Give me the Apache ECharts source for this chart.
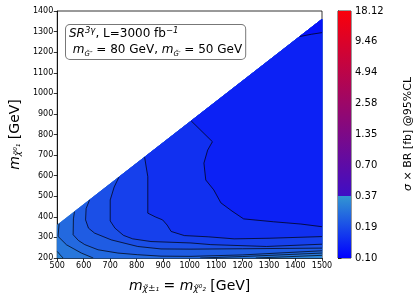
<!DOCTYPE html>
<html><head><meta charset="utf-8">
<script src="https://cdn.jsdelivr.net/npm/echarts@6/dist/echarts.min.js"></script>
<style>html,body{margin:0;padding:0;background:#fff}#c{width:415px;height:300px}</style>
</head><body><div id="c"></div>
<script>
// ---- data (GeV / fb) ----
const xRange = [500, 1500];
const yRange = [200, 1400];
const diagonalOffset = 140;          // m(chi1) <= m(chi2) - 140 GeV
const cbTickLabels = ['0.10','0.19','0.37','0.70','1.35','2.58','4.94','9.46','18.12'];
const cbMin = 0.10, cbSplit = 0.37;

// contour lines, ordered from highest to lowest level
const contourK1 = [[500,232],[511,215],[522,200]];
const contourR1 = [[1250,200],[1500,213]];
const contourK2 = [[507,367],[503,305],[535,264],[591,224],[636,200]];
const contourR2 = [[1040,200],[1200,207],[1500,224]];
const contourK3 = [[565,425],[561,390],[560,313],[580,285],[604,265],[654,240],[729,224],[804,216],[892,209],[1005,208],[1200,215],[1500,235]];
const contourK4 = [[622,482],[609,440],[607,385],[618,345],[641,321],[704,288],[804,256],[892,244],[1005,243],[1200,245],[1500,248]];
const contourC  = [[733,593],[715,545],[700,482],[700,380],[718,345],[750,310],[785,293],[854,280],[1005,273],[1080,265],[1290,256],[1500,267]];
const contourB  = [[830,690],[842,595],[842,418],[870,400],[898,385],[915,360],[930,329],[980,309],[1070,303],[1168,293],[1300,296],[1500,304]];
const contourA  = [[1006,866],[1086,765],[1068,724],[1054,661],[1061,579],[1091,531],[1118,468],[1160,428],[1204,390],[1317,376],[1420,365],[1500,352]];
const contourT  = [[1416,1276],[1460,1287],[1500,1295]];

// sigma x BR upper limit level of each contour (fb)
const contourLevels = [0.30, 0.26, 0.23, 0.205, 0.18, 0.155, 0.135, 0.118];
const maxValue = 0.32;   // lower-left corner
const minValue = 0.11;   // upper-right corner

// ---- build ----
const regionPieces = [
  [contourK1, contourR1], [contourK2, contourR2], [contourK3], [contourK4],
  [contourC], [contourB], [contourA], [contourT]
];
const allLines = [contourK1, contourR1, contourK2, contourR2, contourK3, contourK4, contourC, contourB, contourA, contourT];

function lowColor(v){
  let t = Math.log(v/cbMin)/Math.log(cbSplit/cbMin);
  t = Math.max(0, Math.min(1, t));
  const r = Math.round(4+46*t), g = Math.round(8+142*t), b = Math.round(252-42*t);
  return 'rgb('+r+','+g+','+b+')';
}
const diagTop = [xRange[1], xRange[1]-diagonalOffset];
const diagBottom = [xRange[0], xRange[0]-diagonalOffset];
const fillPolys = [[[xRange[0],yRange[0]],[xRange[1],yRange[0]],diagTop,diagBottom]];
const fillValues = [maxValue];
regionPieces.forEach(function(pieces, i){
  let pts = [];
  pieces.forEach(function(p){ pts = pts.concat(p); });
  pts.push(diagTop);
  const first = pts[0];
  if (Math.abs(first[1] - (first[0]-diagonalOffset)) > 1) pts.push(diagBottom);
  fillPolys.push(pts);
  const lo = contourLevels[i+1] !== undefined ? contourLevels[i+1] : minValue*minValue/contourLevels[i];
  fillValues.push(Math.sqrt(contourLevels[i]*lo));
});
fillValues[fillValues.length-1] = minValue;

const chart = echarts.init(document.getElementById('c'), null, {renderer:'canvas'});
const font = 'DejaVu Sans';
const lineSeries = allLines.map(function(l){
  return {type:'line', xAxisIndex:0, yAxisIndex:0, data:l, symbol:'none', silent:true, z:5,
    lineStyle:{color:'#000', width:0.7}, animation:false};
});
const plain = function(v){ return String(v); };
const nameRich = {
  i:{fontSize:14, fontStyle:'italic', fontFamily:font, color:'#000', lineHeight:18, verticalAlign:'bottom'},
  s:{fontSize:9, fontStyle:'italic', fontFamily:font, color:'#000', lineHeight:12, verticalAlign:'bottom'},
  n:{fontSize:14, fontFamily:font, color:'#000', lineHeight:18, verticalAlign:'bottom'}};

chart.setOption({
  animation:false,
  grid:[
    {left:56, top:11, width:266, height:247, show:true, borderColor:'#000', borderWidth:0.8, backgroundColor:'transparent'},
    {left:338, top:11, width:13, height:247, show:true, borderColor:'#000', borderWidth:0.8}
  ],
  xAxis:[
    {gridIndex:0, type:'value', min:xRange[0], max:xRange[1], interval:100,
     axisLine:{show:true, onZero:false, lineStyle:{color:'#000', width:0.8}},
     axisTick:{show:true, length:3.5, lineStyle:{color:'#000', width:0.8}},
     splitLine:{show:false},
     axisLabel:{color:'#000', fontSize:8, fontFamily:font, margin:4, formatter:plain},
     name:'{i|m}{s|χ̃}{s|±₁}{n| = }{i|m}{s|χ̃}{s|⁰₂}{n| [GeV]}', nameLocation:'middle', nameGap:17,
     nameTextStyle:{color:'#000', fontFamily:font, rich:nameRich}},
    {gridIndex:1, type:'value', min:0, max:1, show:false}
  ],
  yAxis:[
    {gridIndex:0, type:'value', min:yRange[0], max:yRange[1], interval:100,
     axisLine:{show:true, onZero:false, lineStyle:{color:'#000', width:0.8}},
     axisTick:{show:true, length:3.5, lineStyle:{color:'#000', width:0.8}},
     splitLine:{show:false},
     axisLabel:{color:'#000', fontSize:8, fontFamily:font, margin:4, formatter:plain},
     name:'{i|m}{s|χ̃}{s|⁰₁}{n| [GeV]}', nameLocation:'middle', nameGap:31, nameRotate:90,
     nameTextStyle:{color:'#000', fontFamily:font, rich:nameRich}},
    {gridIndex:1, type:'value', position:'right', min:0, max:8, interval:1,
     axisLine:{show:true, lineStyle:{color:'#000', width:0.8}},
     axisTick:{show:true, length:3.5, lineStyle:{color:'#000', width:0.8}},
     splitLine:{show:false},
     axisLabel:{color:'#000', fontSize:10, fontFamily:font, margin:4,
       formatter:function(v){ return cbTickLabels[Math.round(v)]; }}}
  ],
  graphic:[
    {type:'text', left:65, top:24, z:100,
     style:{
       text:'{i|SR}{p|3γ}{n|, L=3000 fb}{p|−1}\n{n| }{i|m}{b|G̃″}{n| = 80 GeV, }{i|m}{b|G̃′}{n| = 50 GeV}',
       backgroundColor:'#fff', borderColor:'#777', borderWidth:1, borderRadius:4, padding:[1,3,1,3],
       rich:{
         i:{fontSize:12, fontStyle:'italic', fontFamily:font, fill:'#000', lineHeight:16},
         n:{fontSize:12, fontFamily:font, fill:'#000', lineHeight:16},
         p:{fontSize:8.5, fontStyle:'italic', fontFamily:font, fill:'#000', lineHeight:16, verticalAlign:'top', padding:[0,0,6,0]},
         b:{fontSize:7, fontStyle:'italic', fontFamily:font, fill:'#000', lineHeight:16, verticalAlign:'bottom', padding:[5,0,0,0]}
       }}},
    {type:'text', x:408, y:134, rotation:Math.PI/2, z:100,
     style:{text:'{i|σ}{n| × BR [fb] @95%CL}', align:'center', verticalAlign:'middle',
       rich:{i:{fontSize:11, fontStyle:'italic', fontFamily:font, fill:'#000'},
             n:{fontSize:11, fontFamily:font, fill:'#000'}}}}
  ],
  series:[
    {type:'custom', xAxisIndex:0, yAxisIndex:0, silent:true, z:2,
     data:fillPolys.map(function(_, i){ return [i]; }),
     encode:{x:-1, y:-1},
     renderItem:function(params, api){
       const poly = fillPolys[params.dataIndex];
       const col = lowColor(fillValues[params.dataIndex]);
       return {type:'polygon', shape:{points:poly.map(function(p){ return api.coord(p); })},
         style:{fill:col, stroke:col, lineWidth:0.4}};
     }},
    {type:'custom', xAxisIndex:1, yAxisIndex:1, silent:true, z:2, data:[[0]],
     encode:{x:-1, y:-1},
     renderItem:function(params, api){
       const p0 = api.coord([0,0]), p1 = api.coord([1,8]);
       return {type:'rect', shape:{x:p0[0], y:p1[1], width:p1[0]-p0[0], height:p0[1]-p1[1]},
         style:{fill:new echarts.graphic.LinearGradient(0,1,0,0,[
           {offset:0, color:'rgb(0,0,255)'},
           {offset:0.25, color:'rgb(50,150,210)'},
           {offset:0.25, color:'rgb(62,14,198)'},
           {offset:1, color:'rgb(250,0,10)'}])}};
     }}
  ].concat(lineSeries)
});
</script></body></html>
